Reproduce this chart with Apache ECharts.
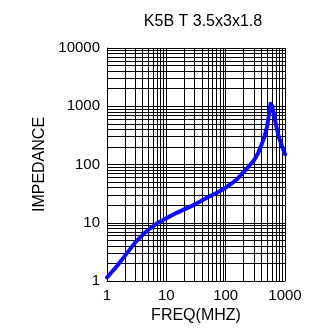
<!DOCTYPE html>
<html>
<head>
<meta charset="utf-8">
<style type="text/css">
html, body { margin: 0; padding: 0; background: #fff; }
#chart { width: 315px; height: 331px; }
</style>
<script type="text/javascript" src="https://cdn.jsdelivr.net/npm/echarts@6/dist/echarts.min.js"></script>
</head>
<body>
<div id="chart"></div>
<script type="text/javascript">
// curve: frequency (MHz) -> impedance (ohm)
var freq = [1, 1.5, 2, 3, 4, 5, 7, 10, 15, 20, 30, 50, 70, 100, 150, 200, 250, 300, 350, 400, 450, 500, 540, 570, 590, 610, 650, 700, 750, 800, 900, 1000];
var imp = [1.15, 1.85, 2.7, 4.6, 6.2, 7.6, 9.8, 12, 14.8, 17, 20.5, 27.5, 32.5, 40, 54, 74, 95, 118, 155, 215, 300, 450, 750, 1100, 1150, 1000, 720, 500, 360, 280, 200, 150];

// minor grid lines of the log paper
var xMinor = [2, 3, 4, 5, 6, 7, 8, 9, 20, 30, 40, 50, 60, 70, 80, 90, 200, 300, 400, 500, 600, 700, 800, 900];
var yMinor = [2, 3, 4, 5, 6, 7, 8, 9, 20, 30, 40, 50, 60, 70, 80, 90, 200, 300, 400, 500, 600, 700, 800, 900, 2000, 3000, 4000, 5000, 6000, 7000, 8000, 9000];

var title = 'K5B T 3.5x3x1.8';
var xName = 'FREQ(MHZ)';
var yName = 'IMPEDANCE';

var font = 'Liberation Sans, Arial, sans-serif';
var chart = echarts.init(document.getElementById('chart'), null, { renderer: 'canvas' });

var pts = [];
for (var i = 0; i < freq.length; i++) {
	pts.push([freq[i], imp[i]]);
}
var gridLines = [];
xMinor.forEach(function (v) { gridLines.push({ xAxis: v }); });
yMinor.forEach(function (v) { gridLines.push({ yAxis: v }); });

function plain(v) { return String(Math.round(v)); }

chart.setOption({
	animation: false,
	backgroundColor: '#fff',
	title: {
		text: title,
		left: 198,
		top: 9,
		textAlign: 'center',
		textStyle: { fontFamily: font, fontSize: 16, fontWeight: 'normal', color: '#000' }
	},
	grid: { left: 107, right: 30, top: 48, bottom: 50 },
	xAxis: {
		type: 'log',
		logBase: 10,
		min: 1,
		max: 1000,
		name: xName,
		nameLocation: 'middle',
		nameGap: 27,
		nameTextStyle: { fontFamily: font, fontSize: 16, color: '#000' },
		axisLine: { lineStyle: { color: '#000', width: 1 } },
		axisTick: { show: false },
		axisLabel: { fontFamily: font, fontSize: 15, color: '#000', margin: 7, formatter: plain },
		splitLine: { show: true, lineStyle: { color: '#000', width: 1 } }
	},
	yAxis: {
		type: 'log',
		logBase: 10,
		min: 1,
		max: 10000,
		name: yName,
		nameLocation: 'middle',
		nameRotate: 90,
		nameGap: 53,
		nameTextStyle: { fontFamily: font, fontSize: 16, color: '#000' },
		axisLine: { show: true, lineStyle: { color: '#000', width: 1 } },
		axisTick: { show: false },
		axisLabel: { fontFamily: font, fontSize: 15, color: '#000', margin: 7, formatter: plain },
		splitLine: { show: true, lineStyle: { color: '#000', width: 1 } }
	},
	series: [{
		type: 'line',
		data: [],
		z: 1,
		silent: true,
		markLine: {
			silent: true,
			z: 1,
			symbol: ['none', 'none'],
			label: { show: false },
			lineStyle: { color: '#000', width: 1, type: 'solid' },
			emphasis: { disabled: true },
			data: gridLines
		}
	}, {
		type: 'line',
		data: pts,
		z: 3,
		showSymbol: false,
		smooth: false,
		lineStyle: { color: '#0a0aff', width: 4, join: 'round', cap: 'round' },
		itemStyle: { color: '#0a0aff' }
	}]
});
</script>
</body>
</html>
